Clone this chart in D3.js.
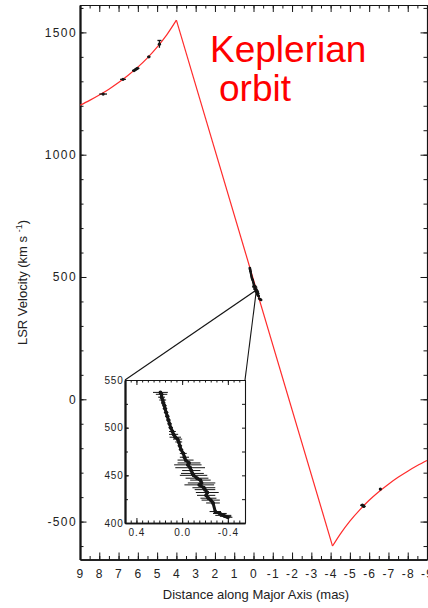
<!DOCTYPE html>
<html>
<head>
<meta charset="utf-8">
<script src="https://cdn.jsdelivr.net/npm/d3@7"></script>
<style>
  html, body { margin: 0; padding: 0; background: #fff; }
  svg { display: block; font-family: "Liberation Sans", Arial, Helvetica, sans-serif; }
</style>
</head>
<body>
<svg id="chart" width="428" height="608"></svg>
<script>
// Keplerian model curve: high-velocity arc, straight systemic segment, low-velocity arc
const modelHighX = [9, 8.5, 8, 7.5, 7, 6.5, 6, 5.5, 5, 4.5, 4];
const modelHighV = [1202, 1222, 1244, 1268, 1295, 1325, 1358, 1396, 1440, 1490, 1550];
const modelMidX = [4, -4.1];
const modelMidV = [1550, -600];
const modelLowX = [-4.1, -4.5, -5, -5.5, -6, -6.5, -7, -7.5, -8, -8.5, -9];
const modelLowV = [-600, -551, -498, -453, -413, -378, -347, -319, -294, -271, -250];

// High-velocity maser spots (offset mas, velocity km/s, errors)
const highX = [7.8, 6.77, 6.2, 6.1, 6.02, 5.43, 4.88];
const highV = [1248, 1308, 1344, 1349, 1353, 1400, 1452];
const highErrX = [0.2, 0.15, 0.1, 0.1, 0.1, 0.08, 0.08];
const highErrV = [0, 0, 0, 0, 0, 0, 15];

// Low-velocity maser spots
const lowX = [-5.65, -5.72, -6.58];
const lowV = [-433, -438, -367];
const lowErrX = [0.12, 0.1, 0.05];

// Systemic maser spots (shown in the main panel and enlarged in the inset)
const sysX = [0.19, 0.18, 0.18, 0.17, 0.165, 0.155, 0.15, 0.14, 0.13, 0.12, 0.11, 0.10,
              0.085, 0.075, 0.06, 0.04, 0.03, 0.02, 0.01, -0.01, -0.02, -0.03, -0.06, -0.05,
              -0.07, -0.08, -0.09, -0.10, -0.13, -0.16, -0.17, -0.15, -0.19, -0.20, -0.22, -0.21,
              -0.23, -0.25, -0.27, -0.29, -0.33, -0.36, -0.38, -0.40];
const sysV = [537, 535, 532, 529, 526, 523, 520, 516, 512, 508, 504, 500,
              496, 493, 490, 488, 485, 481, 477, 473, 469, 466, 463, 461,
              458, 455, 452, 450, 447, 445, 442, 440, 437, 435, 432, 429,
              426, 424, 421, 412, 410, 408, 407, 406];
const sysErr = [0.065, 0.05, 0.03, 0.03, 0.02, 0.02, 0.02, 0.02, 0.02, 0.02, 0.02, 0.02,
                0.03, 0.04, 0.05, 0.04, 0.03, 0.02, 0.02, 0.03, 0.04, 0.07, 0.10, 0.12,
                0.13, 0.08, 0.10, 0.12, 0.10, 0.09, 0.12, 0.13, 0.10, 0.09, 0.10, 0.08,
                0.07, 0.08, 0.06, 0.05, 0.06, 0.07, 0.05, 0.04];

// Point of the main panel that the inset enlarges
const zoomAnchor = [-0.15, 447];

// Tick values and labels
const xTicks = [9, 8, 7, 6, 5, 4, 3, 2, 1, 0, -1, -2, -3, -4, -5, -6, -7, -8, -9];
const yTicks = [-500, 0, 500, 1000, 1500];
const insetXTicks = [0.4, 0.0, -0.4];
const insetYTicks = [400, 450, 500, 550];

const svg = d3.select("#chart");
svg.append("rect").attr("width", 428).attr("height", 608).attr("fill", "#fff");

const x = d3.scaleLinear().domain([9, -9]).range([80, 427]);
const y = d3.scaleLinear().domain([-655, 1612]).range([559.5, 5]);

const ink = "#151515";
const red = "#ff2b2b";

function styleAxis(g, width, fontSize, spacing) {
  g.attr("font-family", null).attr("font-size", null);
  g.select("path.domain").attr("stroke", ink).attr("stroke-width", width);
  g.selectAll(".tick line").attr("stroke", ink).attr("stroke-width", 1);
  g.selectAll(".tick text")
    .attr("fill", "#222")
    .style("font-size", fontSize + "px")
    .style("letter-spacing", spacing + "px");
}

const fmt = d => String(d);
const xMinor = d3.range(9, -9.01, -0.5);
const yMinor = d3.range(-600, 1601, 100);

// Main frame: minor ticks first, then labelled axes
const main = svg.append("g");
main.append("g").attr("transform", `translate(0,${y.range()[0]})`)
  .call(d3.axisBottom(x).tickValues(xMinor).tickSize(-3.5).tickSizeOuter(0).tickFormat(""))
  .call(g => styleAxis(g, 1.6, 12, 0));
main.append("g").attr("transform", `translate(0,${y.range()[0]})`)
  .call(d3.axisBottom(x).tickValues(xTicks).tickSize(-7).tickSizeOuter(0).tickPadding(9.5).tickFormat(fmt))
  .call(g => styleAxis(g, 1.6, 12, 1.2));
main.append("g").attr("transform", `translate(0,${y.range()[1]})`)
  .call(d3.axisTop(x).tickValues(xMinor).tickSize(-3.5).tickSizeOuter(0).tickFormat(""))
  .call(g => styleAxis(g, 1.1, 12, 0));
main.append("g").attr("transform", `translate(0,${y.range()[1]})`)
  .call(d3.axisTop(x).tickValues(xTicks).tickSize(-7).tickSizeOuter(0).tickFormat(""))
  .call(g => styleAxis(g, 1.1, 12, 0));
main.append("g").attr("transform", `translate(${x.range()[0]},0)`)
  .call(d3.axisLeft(y).tickValues(yMinor).tickSize(-3.5).tickSizeOuter(0).tickFormat(""))
  .call(g => styleAxis(g, 1.8, 12, 0));
main.append("g").attr("transform", `translate(${x.range()[0]},0)`)
  .call(d3.axisLeft(y).tickValues(yTicks).tickSize(-6.5).tickSizeOuter(0).tickPadding(3).tickFormat(fmt))
  .call(g => styleAxis(g, 1.8, 12, 1.4));
main.append("g").attr("transform", `translate(${x.range()[1]},0)`)
  .call(d3.axisRight(y).tickValues(yMinor).tickSize(-3.5).tickSizeOuter(0).tickFormat(""))
  .call(g => styleAxis(g, 1.1, 12, 0));
main.append("g").attr("transform", `translate(${x.range()[1]},0)`)
  .call(d3.axisRight(y).tickValues(yTicks).tickSize(-6.5).tickSizeOuter(0).tickFormat(""))
  .call(g => styleAxis(g, 1.1, 12, 0));

// Axis titles
svg.append("text")
  .attr("x", 256).attr("y", 599)
  .attr("text-anchor", "middle")
  .attr("fill", "#222")
  .style("font-size", "13px")
  .text("Distance along Major Axis (mas)");

const yt = svg.append("text")
  .attr("transform", "translate(27,282.5) rotate(-90)")
  .attr("text-anchor", "middle")
  .attr("fill", "#222")
  .style("font-size", "13px");
yt.append("tspan").text("LSR Velocity (km s ");
yt.append("tspan").attr("dy", -5).style("font-size", "9px").text("-1");
yt.append("tspan").attr("dy", 5).text(")");

// Model curve
const arc = d3.line().x(d => x(d[0])).y(d => y(d[1])).curve(d3.curveMonotoneX);
const straight = d3.line().x(d => x(d[0])).y(d => y(d[1]));
const curveG = svg.append("g").attr("fill", "none").attr("stroke", red).attr("stroke-width", 1.2);
curveG.append("path").attr("d", arc(modelHighX.map((v, i) => [v, modelHighV[i]])));
curveG.append("path").attr("d", straight(modelMidX.map((v, i) => [v, modelMidV[i]])));
curveG.append("path").attr("d", arc(modelLowX.map((v, i) => [v, modelLowV[i]])));

// Maser spots with error bars
function drawSpots(g, sx, sy, xs, vs, ex, ev, r, w) {
  xs.forEach((xv, i) => {
    const cx = sx(xv), cy = sy(vs[i]);
    if (ex && ex[i]) {
      g.append("line")
        .attr("x1", sx(xv + ex[i])).attr("x2", sx(xv - ex[i]))
        .attr("y1", cy).attr("y2", cy)
        .attr("stroke", ink).attr("stroke-width", w);
    }
    if (ev && ev[i]) {
      g.append("line")
        .attr("x1", cx).attr("x2", cx)
        .attr("y1", sy(vs[i] + ev[i])).attr("y2", sy(vs[i] - ev[i]))
        .attr("stroke", ink).attr("stroke-width", w);
      g.append("line")
        .attr("x1", cx - 2).attr("x2", cx + 2)
        .attr("y1", sy(vs[i] + ev[i])).attr("y2", sy(vs[i] + ev[i]))
        .attr("stroke", ink).attr("stroke-width", w);
    }
    g.append("circle").attr("cx", cx).attr("cy", cy).attr("r", r).attr("fill", ink);
  });
}
const spots = svg.append("g");
drawSpots(spots, x, y, highX, highV, highErrX, highErrV, 1.6, 1.3);
drawSpots(spots, x, y, lowX, lowV, lowErrX, null, 1.6, 1.3);
drawSpots(spots, x, y, sysX, sysV, sysErr, null, 1.2, 1);

// Inset panel
const xi = d3.scaleLinear().domain([0.5, -0.55]).range([125, 245]);
const yi = d3.scaleLinear().domain([400, 550]).range([523, 380]);

// Lines tying the inset to its region of the main panel
const ax = x(zoomAnchor[0]), ay = y(zoomAnchor[1]);
svg.append("g").attr("stroke", ink).attr("stroke-width", 1.1)
  .selectAll("line").data([xi.range()[0], xi.range()[1]]).join("line")
  .attr("x1", d => d).attr("y1", yi.range()[1])
  .attr("x2", ax).attr("y2", ay);

const inset = svg.append("g");
inset.append("rect")
  .attr("x", xi.range()[0]).attr("y", yi.range()[1])
  .attr("width", xi.range()[1] - xi.range()[0])
  .attr("height", yi.range()[0] - yi.range()[1])
  .attr("fill", "#fff");

const ixMinor = d3.range(0.5, -0.551, -0.05);
const iyMinor = d3.range(400, 551, 25);

inset.append("g").attr("transform", `translate(0,${yi.range()[0]})`)
  .call(d3.axisBottom(xi).tickValues(ixMinor).tickSize(-2.5).tickSizeOuter(0).tickFormat(""))
  .call(g => styleAxis(g, 1.5, 10, 0));
inset.append("g").attr("transform", `translate(0,${yi.range()[0]})`)
  .call(d3.axisBottom(xi).tickValues(insetXTicks).tickSize(-5).tickSizeOuter(0).tickPadding(6)
        .tickFormat(d => d.toFixed(1)))
  .call(g => styleAxis(g, 1.5, 10, 1));
inset.append("g").attr("transform", `translate(0,${yi.range()[1]})`)
  .call(d3.axisTop(xi).tickValues(ixMinor).tickSize(-2.5).tickSizeOuter(0).tickFormat(""))
  .call(g => styleAxis(g, 1.1, 10, 0));
inset.append("g").attr("transform", `translate(0,${yi.range()[1]})`)
  .call(d3.axisTop(xi).tickValues(insetXTicks).tickSize(-5).tickSizeOuter(0).tickFormat(""))
  .call(g => styleAxis(g, 1.1, 10, 0));
inset.append("g").attr("transform", `translate(${xi.range()[0]},0)`)
  .call(d3.axisLeft(yi).tickValues(iyMinor).tickSize(-3).tickSizeOuter(0).tickFormat(""))
  .call(g => styleAxis(g, 1.8, 10, 0));
inset.append("g").attr("transform", `translate(${xi.range()[0]},0)`)
  .call(d3.axisLeft(yi).tickValues(insetYTicks).tickSize(-4).tickSizeOuter(0).tickPadding(1.5).tickFormat(fmt))
  .call(g => styleAxis(g, 1.8, 10, 0.8));
inset.append("g").attr("transform", `translate(${xi.range()[1]},0)`)
  .call(d3.axisRight(yi).tickValues(iyMinor).tickSize(-3).tickSizeOuter(0).tickFormat(""))
  .call(g => styleAxis(g, 1.1, 10, 0));

// Systemic spots enlarged, joined along the trail
inset.append("path")
  .attr("d", d3.line().x(d => xi(d[0])).y(d => yi(d[1]))(sysX.map((v, i) => [v, sysV[i]])))
  .attr("fill", "none").attr("stroke", ink).attr("stroke-width", 3)
  .attr("stroke-linejoin", "round");
drawSpots(inset.append("g"), xi, yi, sysX, sysV, sysErr, null, 1.9, 1);

// Annotation
const note = svg.append("text").attr("fill", "#ff0000").style("font-size", "37px");
note.append("tspan").attr("x", 210).attr("y", 62).text("Keplerian");
note.append("tspan").attr("x", 219).attr("y", 101).text("orbit");
</script>
</body>
</html>
